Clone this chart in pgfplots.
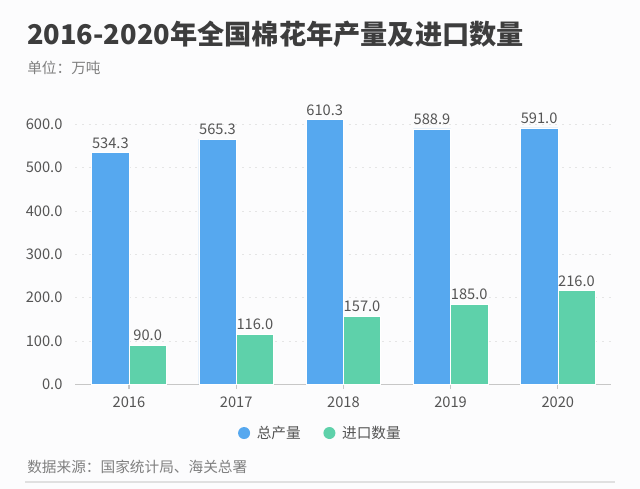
\documentclass[border=0pt]{standalone}
\usepackage{pgfplots}
\pgfplotsset{compat=1.18}
\usepackage{fontspec}
\setmainfont{Noto Sans CJK SC}
\definecolor{barblue}{HTML}{56A8EF}
\definecolor{bargreen}{HTML}{5ED1AA}
\definecolor{bg}{HTML}{FCFCFD}
\definecolor{titlec}{HTML}{3D3D3D}
\definecolor{tickc}{HTML}{555555}
\definecolor{subc}{HTML}{808080}
\begin{document}
\begin{tikzpicture}
\path[use as bounding box, fill=bg] (0,0) rectangle (480pt,366.75pt);
\node[anchor=west, inner sep=0pt, font=\fontsize{20.4}{24}\selectfont\bfseries, text=titlec] at (20.25pt,340.8pt) {2016-2020年全国棉花年产量及进口数量};
\node[anchor=west, inner sep=0pt, font=\fontsize{11}{13}\selectfont, text=subc] at (20.25pt,315.75pt) {单位：万吨};
\node[anchor=west, inner sep=0pt, font=\fontsize{11}{13}\selectfont, text=subc] at (20.25pt,16.2pt) {数据来源：国家统计局、海关总署};
\draw[color=black!12, line width=1.2pt] (18.75pt,5.25pt) -- (461.25pt,5.25pt);
\begin{axis}[
  at={(56.55pt,78.5pt)}, anchor=south west,
  scale only axis, width=402pt, height=211.5pt,
  ybar=0pt, bar width=28pt,
  xmin=-0.5, xmax=4.5, ymin=0, ymax=650,
  xtick={0,1,2,3,4}, xticklabels={2016,2017,2018,2019,2020},
  ytick={0,100,200,300,400,500,600},
  /pgf/number format/assume math mode=true,
  yticklabel={\pgfmathprintnumber[fixed,fixed zerofill,precision=1,assume math mode=true]{\tick}},
  axis lines*=left, separate axis lines,
  x axis line style={draw=black!22, line width=0.8pt},
  y axis line style={draw=none},
  xtick style={draw=black!22, line width=0.8pt},
  ytick style={draw=none},
  tick align=outside, major tick length=3.5pt,
  ymajorgrids, grid style={black!10, dash pattern=on 1.5pt off 3.5pt},
  ticklabel style={font=\fontsize{11}{13}\selectfont, text=tickc},
  yticklabel style={inner sep=0pt, xshift=-6pt},
  xticklabel style={inner sep=0pt, yshift=-6pt},
  nodes near coords={\pgfmathprintnumber[fixed,fixed zerofill,precision=1,assume math mode=true]{\pgfplotspointmeta}},
  every node near coord/.append style={font=\fontsize{11}{13}\selectfont, text=tickc, inner sep=0pt, yshift=3pt},
  legend style={at={(0.4615,-0.1727)}, anchor=center, draw=none, fill=none,
    font=\fontsize{11}{13}\selectfont, text=tickc,
    nodes={inner xsep=5pt},
    /tikz/every even column/.append style={column sep=12pt}},
  legend columns=2,
  legend image code/.code={\fill[#1,draw=none] (0pt,0pt) circle (4.5pt);},
  clip=false,
]
\addplot[fill=barblue, draw=white, line width=0.4pt] coordinates {(0,534.3) (1,565.3) (2,610.3) (3,588.9) (4,591.0)};
\addplot[fill=bargreen, draw=white, line width=0.4pt] coordinates {(0,90.0) (1,116.0) (2,157.0) (3,185.0) (4,216.0)};
\legend{总产量,进口数量}
\end{axis}
\end{tikzpicture}
\end{document}
